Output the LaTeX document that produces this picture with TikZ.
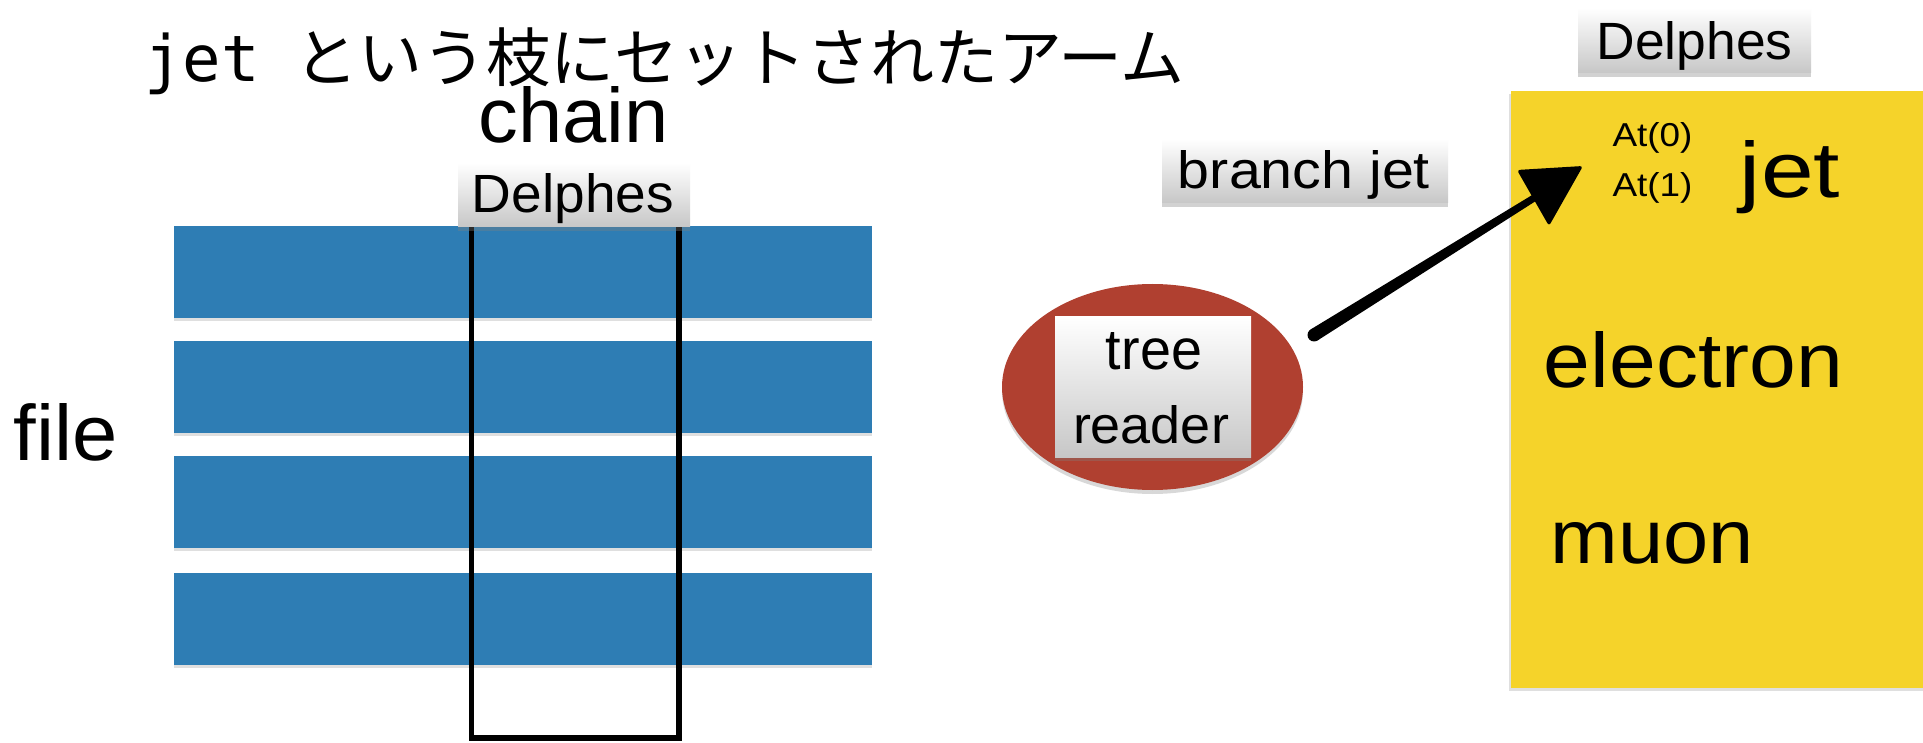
\documentclass[tikz,border=0pt]{standalone}
\usepackage{fontspec}
\setmainfont{Liberation Sans}
\newfontfamily\cjkfont{Noto Sans CJK JP}
\newfontfamily\jmonofont{DejaVu Sans Mono}
\usepackage{graphicx}
\usetikzlibrary{shapes.geometric,shadows,calc}
\definecolor{barblue}{RGB}{46,125,180}
\definecolor{treered}{RGB}{176,64,48}
\definecolor{branchyellow}{RGB}{245,211,42}
\newcommand{\fitlabel}[3]{\resizebox{#1pt}{#2pt}{#3}}
\tikzset{
  graybox/.style={rectangle, inner sep=0pt, top color=white, bottom color=black!22,
    drop shadow={opacity=0.35, shadow xshift=0pt, shadow yshift=-4pt}},
  txt/.style={inner sep=0pt, outer sep=0pt, anchor=base, text=black},
  bar/.style={rectangle, inner sep=0pt, fill=barblue, minimum width=698pt, minimum height=92pt,
    drop shadow={opacity=0.25, shadow xshift=0pt, shadow yshift=-3pt}},
  chainframe/.style={rectangle, inner sep=0pt, draw=black, line width=5.5pt},
}
\begin{document}
\begin{tikzpicture}[x=1pt, y=-1pt]
\fill[white] (0,0) rectangle (1923,743);
\useasboundingbox (0,0) rectangle (1923,743);

% title
\node[inner sep=0pt, anchor=base west] (titlejet) at (144,82) {\jmonofont\fontsize{64}{64}\selectfont jet};
\node[inner sep=0pt, anchor=base west] (titlejp) at (294,82) {\cjkfont\fontsize{64}{64}\selectfont という枝にセットされたアーム};

% file bars
\foreach \yy/\n in {272/1, 387/2, 501.5/3, 619/4}
  \node[bar] (bar\n) at (523,\yy) {};
\node[txt] (filetext) at (66,460) {\fitlabel{104}{57}{file}};

% chain
\node[chainframe, minimum width=207.5pt, minimum height=514pt] (chainrect) at (575.25,481) {};
\node[graybox, minimum width=232pt, minimum height=64pt] (chainbox) at (574,195) {};
\node[txt] (chaindelphes) at (573,213) {\fitlabel{202}{39}{Delphes}};
\node[txt] (chaintext) at (573.5,143) {\fitlabel{190}{56}{chain}};

% tree reader
\node[ellipse, fill=treered, inner sep=0pt, minimum width=301pt, minimum height=206pt,
  drop shadow={opacity=0.3, shadow xshift=0pt, shadow yshift=-4pt}] (treeell) at (1152.5,387) {};
\node[graybox, minimum width=196pt, minimum height=140pt] (treebox) at (1153,387) {};
\node[txt] (treetext) at (1154,370) {\fitlabel{96}{37}{tree}};
\node[txt] (readertext) at (1151,443) {\fitlabel{156}{38}{reader}};

% branch jet
\node[graybox, minimum width=286pt, minimum height=64pt] (branchbox) at (1305,171) {};
\node[txt] (branchtext) at (1304,189) {\fitlabel{252}{38}{branch jet}};

% yellow tree
\node[rectangle, fill=branchyellow, inner sep=0pt, minimum width=419pt, minimum height=597pt,
  drop shadow={opacity=0.25, shadow xshift=-2pt, shadow yshift=-3pt}] (ybox) at (1720.5,389.5) {};
\node[graybox, minimum width=233pt, minimum height=65pt] (topbox) at (1694.5,40.5) {};
\node[txt] (topdelphes) at (1694.5,60) {\fitlabel{196}{38}{Delphes}};
\node[txt] (at0) at (1652.5,147) {\fitlabel{80}{24}{At(0)}};
\node[txt] (at1) at (1652.5,197) {\fitlabel{80}{24}{At(1)}};
\node[txt] (jettext) at (1790,198) {\fitlabel{100}{57}{jet}};
\node[txt] (electrontext) at (1693.5,387) {\fitlabel{299}{56}{electron}};
\node[txt] (muontext) at (1652.5,563) {\fitlabel{203}{41}{muon}};

% arrow (brush stroke, tapering)
\coordinate (arrtail) at (1314,335);
\coordinate (arrhead) at (1534,198);
\fill (arrtail) circle (6.5pt);
\fill ($(arrtail)!6.5pt!90:(arrhead)$) -- ($(arrhead)!3.5pt!-90:(arrtail)$)
   -- ($(arrhead)!3.5pt!90:(arrtail)$) -- ($(arrtail)!6.5pt!-90:(arrhead)$) -- cycle;
\fill[rounded corners=3pt] (1517,170) -- (1583,166) -- (1549,226) -- cycle;
\end{tikzpicture}
\end{document}
